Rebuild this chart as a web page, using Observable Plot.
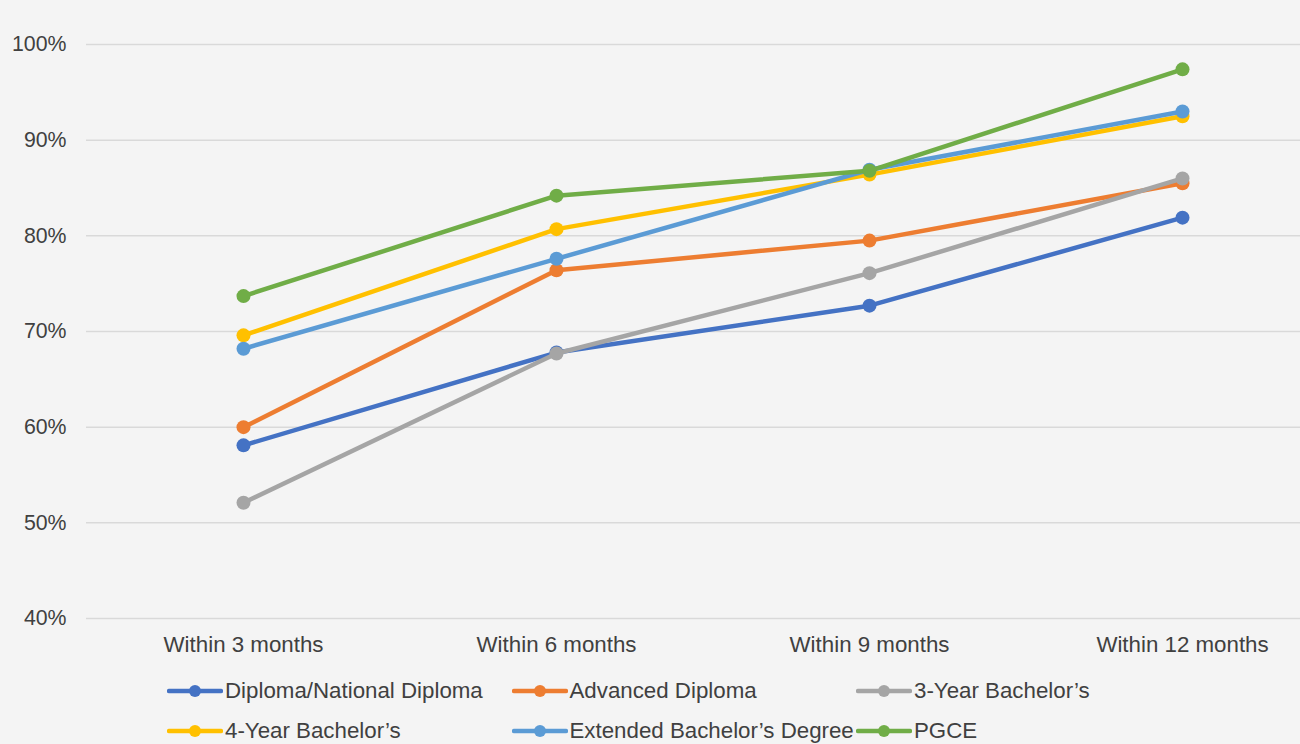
<!DOCTYPE html>
<html>
<head>
<meta charset="utf-8">
<script src="https://cdn.jsdelivr.net/npm/d3@7"></script>
<script src="https://cdn.jsdelivr.net/npm/@observablehq/plot@0.6"></script>
<style>
  html, body { margin: 0; padding: 0; background: #f4f4f4; }
  body { width: 1300px; height: 744px; overflow: hidden; position: relative; font-family: "Liberation Sans", Arial, sans-serif; }
  #chart { position: absolute; left: 0; top: 0; }
  #legend { position: absolute; left: 0; top: 0; width: 1300px; height: 744px; pointer-events: none; }
  .item { position: absolute; display: flex; align-items: center; height: 30px; font-size: 22.3px; color: #404040; white-space: nowrap; }
  .item svg { margin-right: 2px; }
</style>
</head>
<body>
<div id="chart"></div>
<div id="legend"></div>
<script>
const periods = ["Within 3 months", "Within 6 months", "Within 9 months", "Within 12 months"];
const seriesNames = ["Diploma/National Diploma", "Advanced Diploma", "3-Year Bachelor\u2019s", "4-Year Bachelor\u2019s", "Extended Bachelor\u2019s Degree", "PGCE"];
const seriesColors = ["#4472C4", "#ED7D31", "#A5A5A5", "#FFC000", "#5B9BD5", "#70AD47"];
const diploma = [58.1, 67.8, 72.7, 81.9];
const advancedDiploma = [60.0, 76.4, 79.5, 85.5];
const bachelor3 = [52.1, 67.7, 76.1, 86.0];
const bachelor4 = [69.6, 80.7, 86.4, 92.5];
const extendedBachelor = [68.2, 77.6, 86.9, 93.0];
const pgce = [73.7, 84.2, 86.8, 97.4];
const yTicks = [40, 50, 60, 70, 80, 90, 100];

const seriesValues = [diploma, advancedDiploma, bachelor3, bachelor4, extendedBachelor, pgce];
const data = [];
seriesNames.forEach((s, i) => periods.forEach((p, j) => data.push({series: s, period: p, value: seriesValues[i][j]})));

const marks = [
  Plot.ruleY(yTicks, {stroke: "#d9d9d9", strokeWidth: 1.5})
];
seriesNames.forEach((s, i) => {
  const d = data.filter(r => r.series === s);
  marks.push(Plot.line(d, {x: "period", y: "value", stroke: seriesColors[i], strokeWidth: 4.5, strokeLinejoin: "round", strokeLinecap: "round"}));
  marks.push(Plot.dot(d, {x: "period", y: "value", fill: seriesColors[i], r: 7}));
});
marks.push(Plot.axisY({ticks: yTicks, tickSize: 0, tickPadding: 20, tickFormat: d => d + "%", fontSize: 21.3, fill: "#404040"}));
marks.push(Plot.axisX({tickSize: 0, tickPadding: 17.5, fontSize: 22.3, fill: "#404040"}));

const chart = Plot.plot({
  width: 1300,
  height: 665,
  marginLeft: 86,
  marginRight: 0,
  marginTop: 0,
  marginBottom: 47,
  style: {background: "transparent", fontFamily: "'Liberation Sans', Arial, sans-serif", overflow: "visible"},
  x: {type: "point", domain: periods, range: [242.5, 1181.5], padding: 0, label: null},
  y: {domain: [40, 100], range: [618, 44], label: null},
  marks
});
document.getElementById("chart").appendChild(chart);

const legend = document.getElementById("legend");
seriesNames.forEach((s, i) => {
  const col = i % 3, row = Math.floor(i / 3);
  const div = document.createElement("div");
  div.className = "item";
  div.style.left = (167 + col * 344.5) + "px";
  div.style.top = (676 + row * 40) + "px";
  div.innerHTML = `<svg width="56" height="14"><line x1="2" x2="54" y1="7" y2="7" stroke="${seriesColors[i]}" stroke-width="4.5" stroke-linecap="round"/><circle cx="28" cy="7" r="6" fill="${seriesColors[i]}"/></svg><span>${s}</span>`;
  legend.appendChild(div);
});
</script>
</body>
</html>
